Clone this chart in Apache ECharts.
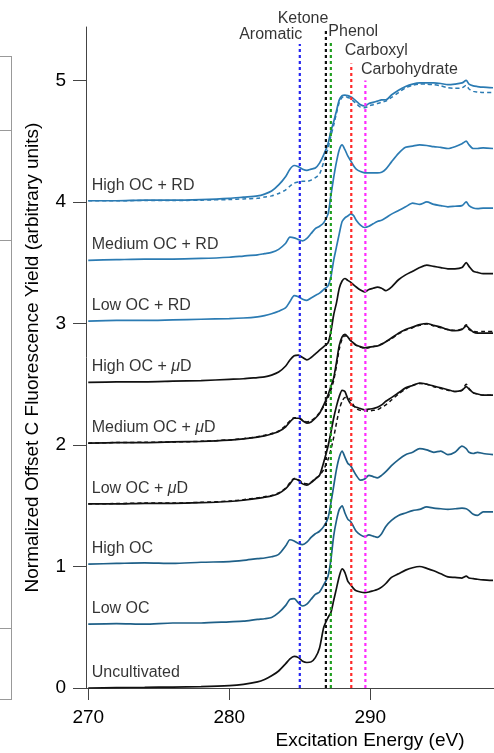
<!DOCTYPE html>
<html>
<head>
<meta charset="utf-8">
<script src="https://cdn.jsdelivr.net/npm/echarts@6/dist/echarts.min.js"></script>
<style>
  html, body { margin: 0; padding: 0; background: #fff; }
  #chart { width: 494px; height: 753px; }
</style>
</head>
<body>
<div id="chart"></div>
<script>
// excitation energy grid (eV)
var energy = [270, 272, 274, 276, 278, 280, 281, 282, 282.5, 283,
  283.5, 284, 284.3, 284.6, 284.9, 285.2, 285.5, 285.8, 286.1, 286.4,
  286.7, 287.0, 287.2, 287.4, 287.6, 287.8, 288.0, 288.2, 288.4, 288.6,
  288.8, 289.0, 289.3, 289.6, 289.9, 290.2, 290.5, 290.8, 291.1, 291.5,
  292.0, 292.5, 293.0, 293.5, 294.0, 294.5, 295.0, 295.5, 296.0, 296.5,
  296.8, 297.0, 297.3, 297.6, 298.0, 298.7];

// offset spectra
var uncultivated = [0.000, 0.003, 0.005, 0.008, 0.012, 0.020, 0.030, 0.050, 0.070, 0.100,
  0.140, 0.200, 0.240, 0.260, 0.250, 0.220, 0.210, 0.215, 0.250, 0.330,
  0.500, 0.580, 0.620, 0.720, 0.820, 0.920, 0.980, 0.950, 0.880, 0.850,
  0.820, 0.800, 0.790, 0.785, 0.790, 0.800, 0.810, 0.830, 0.860, 0.910,
  0.940, 0.970, 0.990, 1.000, 0.985, 0.965, 0.940, 0.915, 0.910, 0.905,
  0.920, 0.905, 0.900, 0.895, 0.890, 0.885];
var lowOC = [0.525, 0.530, 0.525, 0.535, 0.535, 0.545, 0.550, 0.565, 0.570, 0.580,
  0.620, 0.680, 0.730, 0.735, 0.700, 0.675, 0.690, 0.730, 0.770, 0.790,
  0.850, 0.920, 1.050, 1.250, 1.380, 1.470, 1.500, 1.440, 1.390, 1.370,
  1.330, 1.290, 1.260, 1.245, 1.260, 1.250, 1.240, 1.270, 1.330, 1.380,
  1.420, 1.440, 1.460, 1.470, 1.490, 1.480, 1.475, 1.470, 1.475, 1.480,
  1.475, 1.460, 1.430, 1.420, 1.450, 1.450];
var highOC = [1.020, 1.025, 1.030, 1.025, 1.035, 1.040, 1.050, 1.065, 1.070, 1.080,
  1.100, 1.170, 1.220, 1.210, 1.190, 1.180, 1.200, 1.240, 1.270, 1.290,
  1.330, 1.400, 1.520, 1.660, 1.800, 1.900, 1.950, 1.900, 1.850, 1.830,
  1.790, 1.750, 1.710, 1.720, 1.750, 1.740, 1.730, 1.750, 1.780, 1.830,
  1.880, 1.920, 1.940, 1.970, 1.960, 1.940, 1.950, 1.920, 1.940, 1.990,
  1.970, 1.940, 1.930, 1.940, 1.930, 1.920];
var lowOCmuD = [1.515, 1.515, 1.520, 1.520, 1.525, 1.535, 1.545, 1.560, 1.570, 1.580,
  1.600, 1.640, 1.680, 1.720, 1.710, 1.680, 1.670, 1.690, 1.720, 1.750,
  1.860, 1.990, 2.100, 2.220, 2.320, 2.400, 2.450, 2.440, 2.380, 2.340,
  2.320, 2.310, 2.300, 2.290, 2.295, 2.300, 2.310, 2.330, 2.360, 2.390,
  2.430, 2.470, 2.490, 2.510, 2.500, 2.485, 2.470, 2.455, 2.440, 2.450,
  2.480, 2.460, 2.430, 2.420, 2.410, 2.410];
var lowOCmuDrep = [1.515, 1.518, 1.522, 1.522, 1.528, 1.538, 1.550, 1.565, 1.575, 1.585,
  1.605, 1.645, 1.690, 1.725, 1.715, 1.690, 1.680, 1.695, 1.725, 1.750,
  1.800, 1.880, 1.960, 2.060, 2.180, 2.290, 2.360, 2.390, 2.390, 2.370,
  2.330, 2.300, 2.285, 2.280, 2.280, 2.285, 2.290, 2.310, 2.330, 2.370,
  2.420, 2.460, 2.490, 2.505, 2.500, 2.480, 2.465, 2.450, 2.440, 2.450,
  2.500, 2.465, 2.430, 2.420, 2.410, 2.410];
var medOCmuD = [2.015, 2.020, 2.020, 2.025, 2.030, 2.040, 2.050, 2.065, 2.075, 2.090,
  2.110, 2.150, 2.190, 2.220, 2.220, 2.200, 2.180, 2.190, 2.220, 2.260,
  2.330, 2.410, 2.480, 2.550, 2.680, 2.820, 2.890, 2.910, 2.890, 2.860,
  2.840, 2.820, 2.810, 2.800, 2.805, 2.810, 2.815, 2.830, 2.850, 2.880,
  2.920, 2.950, 2.970, 2.990, 3.000, 2.985, 2.970, 2.950, 2.940, 2.950,
  2.980, 2.960, 2.930, 2.920, 2.920, 2.920];
var medOCmuDrep = [2.015, 2.020, 2.022, 2.025, 2.030, 2.042, 2.052, 2.068, 2.080, 2.095,
  2.115, 2.160, 2.200, 2.225, 2.225, 2.205, 2.190, 2.200, 2.225, 2.265,
  2.320, 2.390, 2.450, 2.530, 2.650, 2.790, 2.870, 2.900, 2.890, 2.860,
  2.840, 2.820, 2.805, 2.795, 2.800, 2.810, 2.815, 2.830, 2.850, 2.875,
  2.915, 2.945, 2.965, 2.985, 2.995, 2.980, 2.965, 2.950, 2.945, 2.955,
  2.990, 2.950, 2.935, 2.930, 2.935, 2.935];
var highOCmuD = [2.515, 2.520, 2.520, 2.525, 2.530, 2.540, 2.545, 2.555, 2.560, 2.575,
  2.600, 2.650, 2.700, 2.735, 2.740, 2.720, 2.700, 2.720, 2.750, 2.780,
  2.810, 2.840, 2.930, 3.070, 3.170, 3.290, 3.350, 3.370, 3.355, 3.340,
  3.320, 3.300, 3.275, 3.260, 3.280, 3.290, 3.300, 3.290, 3.270, 3.300,
  3.360, 3.400, 3.430, 3.460, 3.480, 3.470, 3.460, 3.450, 3.450, 3.460,
  3.500, 3.470, 3.430, 3.420, 3.410, 3.410];
var lowOCRD = [3.020, 3.025, 3.025, 3.030, 3.035, 3.040, 3.045, 3.055, 3.065, 3.080,
  3.100, 3.130, 3.180, 3.230, 3.220, 3.200, 3.190, 3.210, 3.230, 3.250,
  3.280, 3.310, 3.380, 3.520, 3.630, 3.740, 3.840, 3.870, 3.885, 3.900,
  3.890, 3.850, 3.810, 3.790, 3.800, 3.820, 3.840, 3.850, 3.870, 3.900,
  3.930, 3.960, 3.990, 3.980, 4.000, 3.980, 3.970, 3.960, 3.965, 3.970,
  4.000, 3.970, 3.950, 3.945, 3.950, 3.950];
var medOCRD = [3.520, 3.525, 3.530, 3.530, 3.535, 3.545, 3.555, 3.565, 3.575, 3.585,
  3.610, 3.660, 3.710, 3.705, 3.690, 3.680, 3.700, 3.740, 3.780, 3.800,
  3.830, 3.900, 4.050, 4.200, 4.330, 4.430, 4.470, 4.430, 4.380, 4.340,
  4.300, 4.270, 4.250, 4.240, 4.240, 4.240, 4.240, 4.245, 4.270, 4.330,
  4.400, 4.450, 4.460, 4.470, 4.465, 4.455, 4.450, 4.440, 4.455, 4.480,
  4.500, 4.470, 4.440, 4.440, 4.445, 4.440];
var highOCRD = [4.010, 4.010, 4.015, 4.015, 4.020, 4.030, 4.040, 4.050, 4.065, 4.090,
  4.140, 4.210, 4.270, 4.300, 4.290, 4.270, 4.260, 4.270, 4.280, 4.320,
  4.390, 4.480, 4.580, 4.660, 4.750, 4.840, 4.875, 4.880, 4.875, 4.865,
  4.850, 4.830, 4.800, 4.790, 4.810, 4.820, 4.830, 4.840, 4.840, 4.880,
  4.920, 4.950, 4.970, 4.980, 4.980, 4.980, 4.975, 4.965, 4.970, 4.980,
  5.000, 4.970, 4.955, 4.950, 4.945, 4.940];
var highOCRDrep = [4.010, 4.010, 4.012, 4.012, 4.015, 4.020, 4.025, 4.030, 4.040, 4.050,
  4.070, 4.100, 4.130, 4.155, 4.165, 4.170, 4.170, 4.180, 4.200, 4.230,
  4.330, 4.440, 4.540, 4.630, 4.730, 4.820, 4.860, 4.870, 4.860, 4.850,
  4.830, 4.810, 4.780, 4.775, 4.790, 4.800, 4.810, 4.820, 4.830, 4.860,
  4.900, 4.940, 4.960, 4.970, 4.970, 4.965, 4.955, 4.940, 4.935, 4.940,
  4.960, 4.930, 4.910, 4.905, 4.900, 4.900];

var sampleNames = ['High OC + RD', 'Medium OC + RD', 'Low OC + RD', 'High OC + μD',
  'Medium OC + μD', 'Low OC + μD', 'High OC', 'Low OC', 'Uncultivated'];
var sampleData = [highOCRD, medOCRD, lowOCRD, highOCmuD, medOCmuD, lowOCmuD, highOC, lowOC, uncultivated];
var replicateData = [highOCRDrep, null, null, null, medOCmuDrep, lowOCmuDrep, null, null, null];

var markerNames = ['Aromatic', 'Ketone', 'Phenol', 'Carboxyl', 'Carbohydrate'];
var markerEnergy = [285.0, 286.85, 287.2, 288.65, 289.65];
var markerTop = [5.30, 5.41, 5.33, 5.14, 5.00];

var xTicks = [270, 280, 290];
var yTicks = [0, 1, 2, 3, 4, 5];

var FONT = '"Liberation Sans", Arial, sans-serif';
var sampleColors = ['#2b7bb3', '#2b7bb3', '#2b7bb3', '#111111', '#111111', '#111111', '#1f6088', '#1f6088', '#111111'];
var markerColors = ['#2424f0', '#111111', '#1f9e1f', '#ff2a2a', '#ff2cff'];
var markerLabel = [
  { dx: 3, dy: -9, align: 'right' },
  { dx: 3, dy: -12, align: 'right' },
  { dx: -2, dy: -8, align: 'left' },
  { dx: -6, dy: -12, align: 'left' },
  { dx: -4, dy: -10, align: 'left' }
];

function pairs(values) {
  return energy.map(function (e, i) { return [e, values[i]]; });
}

var series = [];
sampleData.forEach(function (vals, i) {
  series.push({
    name: sampleNames[i], type: 'line', data: pairs(vals), showSymbol: false, smooth: 0.25,
    lineStyle: { color: sampleColors[i], width: 1.7 }, z: 3, silent: true
  });
  if (replicateData[i]) {
    series.push({
      name: sampleNames[i] + ' (rep)', type: 'line', data: pairs(replicateData[i]), showSymbol: false, smooth: 0.25,
      lineStyle: { color: sampleColors[i], width: 1.5, type: [4, 3] }, z: 3, silent: true
    });
  }
});

markerNames.forEach(function (n, i) {
  series.push({
    name: n, type: 'line', data: [[markerEnergy[i], 0], [markerEnergy[i], markerTop[i]]],
    showSymbol: false, lineStyle: { color: markerColors[i], width: 2.2, type: [3, 3] }, z: 4, silent: true
  });
});

// sample labels sit just above each trace's starting point
series.push({
  type: 'scatter', symbolSize: 1, itemStyle: { color: 'rgba(0,0,0,0)' }, z: 5, silent: true,
  data: sampleNames.map(function (n, i) { return { name: n, value: [energy[0], sampleData[i][0]] }; }),
  label: {
    show: true, position: [4, -15], align: 'left', verticalAlign: 'middle',
    color: '#000', fontSize: 16, fontFamily: FONT,
    formatter: function (p) { return p.name.replace('μ', '{i|μ}'); },
    rich: { i: { fontStyle: 'italic', fontSize: 16, fontFamily: FONT, color: '#000' } }
  }
});

// functional group labels at the top of each marker line
series.push({
  type: 'scatter', symbolSize: 1, itemStyle: { color: 'rgba(0,0,0,0)' }, z: 5, silent: true,
  data: markerNames.map(function (n, i) {
    return {
      name: n, value: [markerEnergy[i], markerTop[i]],
      label: { position: [markerLabel[i].dx, markerLabel[i].dy], align: markerLabel[i].align }
    };
  }),
  label: { show: true, formatter: '{b}', verticalAlign: 'middle', color: '#000', fontSize: 16, fontFamily: FONT }
});

var chart = echarts.init(document.getElementById('chart'));
chart.setOption({
  animation: false,
  backgroundColor: '#fff',
  grid: { left: 86, right: 0, top: 27, bottom: 65 },
  xAxis: {
    type: 'value', min: 269.84, max: 298.77,
    axisLine: { lineStyle: { color: '#444', width: 1 } },
    axisTick: { length: 12, customValues: xTicks, lineStyle: { color: '#444' } },
    axisLabel: { customValues: xTicks, fontSize: 19, fontFamily: FONT, color: '#000', margin: 20 },
    splitLine: { show: false }
  },
  yAxis: {
    type: 'value', min: 0, max: 5.44,
    name: 'Normalized Offset C Fluorescence Yield (arbitrary units)',
    nameLocation: 'middle', nameGap: 44,
    nameTextStyle: { fontSize: 19, fontFamily: FONT, color: '#000' },
    axisLine: { show: true, lineStyle: { color: '#444', width: 1 } },
    axisTick: { show: true, inside: false, length: 13, customValues: yTicks, lineStyle: { color: '#444' } },
    axisLabel: { customValues: yTicks, fontSize: 19, fontFamily: FONT, color: '#000', margin: 20 },
    splitLine: { show: false }
  },
  graphic: [
    { type: 'text', x: 370, y: 741, silent: true,
      style: { text: 'Excitation Energy (eV)', font: '19px ' + FONT, fill: '#000', align: 'center', verticalAlign: 'middle' } },
    // edge of the neighbouring panel, cut off in the crop
    { type: 'line', silent: true, shape: { x1: 11.5, y1: 56, x2: 11.5, y2: 700 }, style: { stroke: '#999', lineWidth: 1 } },
    { type: 'line', silent: true, shape: { x1: 0, y1: 56.5, x2: 12, y2: 56.5 }, style: { stroke: '#999', lineWidth: 1 } },
    { type: 'line', silent: true, shape: { x1: 0, y1: 130.5, x2: 12, y2: 130.5 }, style: { stroke: '#999', lineWidth: 1 } },
    { type: 'line', silent: true, shape: { x1: 0, y1: 240.5, x2: 12, y2: 240.5 }, style: { stroke: '#999', lineWidth: 1 } },
    { type: 'line', silent: true, shape: { x1: 0, y1: 628.5, x2: 12, y2: 628.5 }, style: { stroke: '#999', lineWidth: 1 } },
    { type: 'line', silent: true, shape: { x1: 0, y1: 699.5, x2: 12, y2: 699.5 }, style: { stroke: '#999', lineWidth: 1 } }
  ],
  series: series
});
</script>
</body>
</html>
